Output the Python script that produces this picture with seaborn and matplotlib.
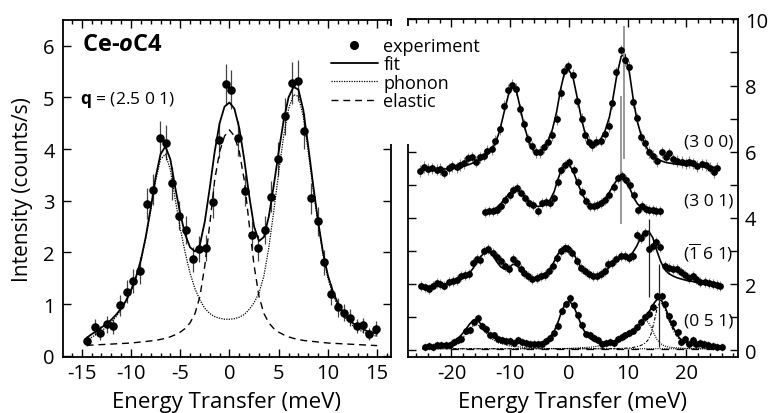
import numpy as np
import pandas as pd
import seaborn as sns
import matplotlib.pyplot as plt
from matplotlib.lines import Line2D
from matplotlib.patches import Rectangle
from matplotlib.ticker import MultipleLocator
import matplotlib.transforms as mtransforms

#%% data - left panel, q = (2.5 0 1)
x_left = [-14.5,-13.7,-13.1,-12.4,-11.8,-11.1,-10.4,-9.8,-9.1,-8.4,-7.8,-7.1,-6.4,-5.8,-5.1,
          -4.4,-3.7,-3.1,-2.4,-1.7,-1.1,-0.4,0.2,0.9,1.6,2.3,2.9,3.6,4.2,4.9,
          5.6,6.3,7.0,7.6,8.3,9.0,9.6,10.3,11.0,11.6,12.2,12.9,13.6,14.2,14.9]
y_left = [0.29,0.56,0.44,0.61,0.57,0.98,1.24,1.45,1.65,2.94,3.21,4.21,4.12,3.34,2.71,
          2.44,1.87,2.06,2.08,2.97,4.17,5.26,5.15,4.21,3.19,2.34,2.08,2.44,3.08,3.81,
          4.63,5.28,5.32,4.35,3.05,2.60,1.81,1.19,0.94,0.84,0.74,0.58,0.59,0.42,0.53]
err_left = [0.10,0.15,0.14,0.16,0.15,0.20,0.22,0.24,0.26,0.30,0.30,0.34,0.34,0.32,0.28,
            0.27,0.24,0.25,0.25,0.30,0.34,0.38,0.38,0.34,0.30,0.26,0.25,0.27,0.30,0.33,
            0.36,0.40,0.40,0.35,0.30,0.28,0.24,0.20,0.18,0.16,0.16,0.14,0.15,0.12,0.14]

xc_left = [-14.5,-14,-13.5,-13,-12.5,-12,-11.5,-11,-10.5,-10,-9.5,-9,-8.5,-8,-7.5,-7,-6.5,-6,-5.5,-5,
           -4.5,-4,-3.5,-3,-2.5,-2,-1.5,-1,-0.5,0,0.5,1,1.5,2,2.5,3,3.5,4,4.5,5,
           5.5,6,6.5,7,7.5,8,8.5,9,9.5,10,10.5,11,11.5,12,12.5,13,13.5,14,14.5,15]
fit_left = [0.35,0.42,0.48,0.55,0.62,0.70,0.80,0.92,1.07,1.27,1.52,1.85,2.30,2.85,3.45,3.90,4.05,3.80,3.25,2.75,
            2.35,2.10,2.02,2.15,2.60,3.25,3.95,4.50,4.82,4.90,4.78,4.40,3.80,3.10,2.50,2.22,2.30,2.70,3.30,3.95,
            4.55,5.00,5.20,5.15,4.75,4.05,3.30,2.60,2.00,1.55,1.25,1.02,0.85,0.73,0.64,0.57,0.52,0.48,0.45,0.43]
phonon_left = [0.30,0.36,0.42,0.48,0.56,0.65,0.76,0.90,1.05,1.25,1.50,1.83,2.27,2.80,3.38,3.80,3.90,3.60,3.02,2.47,
               2.00,1.60,1.30,1.08,0.92,0.82,0.76,0.73,0.71,0.71,0.72,0.75,0.80,0.90,1.03,1.22,1.55,2.10,2.80,3.55,
               4.25,4.78,5.05,5.02,4.62,3.95,3.22,2.55,1.96,1.50,1.18,0.96,0.80,0.68,0.59,0.52,0.47,0.43,0.40,0.38]
elastic_left = [0.205,0.21,0.215,0.22,0.225,0.23,0.235,0.24,0.245,0.25,0.26,0.27,0.28,0.29,0.30,0.32,0.34,0.37,0.41,0.46,
                0.53,0.64,0.82,1.15,1.75,2.55,3.40,3.95,4.25,4.37,4.25,3.95,3.40,2.55,1.75,1.15,0.82,0.64,0.53,0.46,
                0.41,0.37,0.34,0.32,0.30,0.29,0.28,0.27,0.26,0.25,0.245,0.24,0.235,0.23,0.225,0.22,0.215,0.21,0.205,0.20]

#%% data - right panel, four q points (values as plotted, offsets included)
x300 = [-25.4,-24.7,-24.0,-23.3,-22.5,-21.9,-21.2,-20.5,-19.9,-19.1,-18.5,-17.8,-17.1,-16.5,-15.9,
        -15.2,-14.5,-13.9,-13.1,-12.5,-11.8,-11.1,-10.3,-9.7,-9.0,-8.4,-7.7,-6.9,-6.3,-5.6,
        -4.9,-4.3,-3.5,-2.8,-2.1,-1.4,-0.8,-0.1,0.7,1.4,2.2,2.7,3.4,4.0,4.7,
        5.4,6.1,6.9,7.4,8.1,8.9,9.5,10.3,10.95,11.6,12.3,12.95,13.6,14.4,15.0,
        15.8,16.5,17.1,17.8,18.45,19.2,19.9,20.5,21.2,21.9,22.6,23.3,24.0,24.7,25.3]
y300 = [5.42,5.54,5.48,5.50,5.46,5.48,5.37,5.50,5.56,5.53,5.60,5.66,5.80,5.83,5.70,
        5.83,5.88,6.03,6.08,6.33,6.68,7.38,7.88,8.03,7.90,7.28,6.83,6.38,6.17,5.98,
        5.99,6.13,6.30,6.50,6.98,7.78,8.43,8.58,8.33,7.53,7.00,6.50,6.30,6.20,6.30,
        6.33,6.53,6.78,7.46,8.40,9.07,8.77,8.57,7.50,7.01,6.46,6.26,5.99,5.87,5.72,
        5.98,5.83,5.95,5.77,5.72,5.69,5.65,5.69,5.65,5.57,5.62,5.60,5.52,5.39,5.52]
fit300 = [5.45,5.45,5.45,5.46,5.46,5.47,5.48,5.49,5.50,5.52,5.54,5.57,5.61,5.65,5.69,
          5.75,5.82,5.92,6.08,6.28,6.62,7.15,7.72,7.95,7.88,7.42,6.85,6.35,6.10,5.98,
          6.00,6.12,6.35,6.68,7.20,7.90,8.35,8.50,8.25,7.65,6.95,6.60,6.30,6.20,6.25,
          6.38,6.60,7.05,7.50,8.25,8.88,8.95,8.40,7.60,6.95,6.50,6.22,6.02,5.87,5.78,
          5.72,5.68,5.66,5.64,5.62,5.61,5.60,5.59,5.58,5.57,5.56,5.55,5.54,5.53,5.52]

x301 = [-14.3,-13.6,-12.9,-12.2,-11.5,-10.8,-10.1,-9.5,-8.9,-8.2,-7.5,-6.8,-6.1,-5.3,-4.6,
        -3.9,-3.2,-2.5,-1.9,-1.3,-0.6,0.1,0.8,1.5,2.2,2.9,3.6,4.25,4.8,5.5,
        6.2,6.9,7.6,8.3,9.0,9.7,10.4,11.1,11.7,12.4,13.1,13.7,14.3,14.9,15.6]
y301 = [4.18,4.20,4.22,4.25,4.35,4.55,4.70,4.85,4.90,4.77,4.60,4.45,4.40,4.20,4.45,
        4.47,4.45,4.60,5.10,5.45,5.60,5.70,5.45,5.10,4.80,4.50,4.37,4.35,4.40,4.45,
        4.55,4.70,4.95,5.20,5.27,5.15,5.00,4.70,4.25,4.35,4.27,4.23,4.23,4.22,4.22]
fit301 = [4.20,4.22,4.26,4.33,4.45,4.60,4.75,4.83,4.85,4.78,4.64,4.50,4.40,4.35,4.36,
          4.42,4.55,4.80,5.15,5.45,5.62,5.60,5.38,5.05,4.75,4.52,4.40,4.36,4.38,4.45,
          4.58,4.78,5.00,5.17,5.20,5.10,4.88,4.60,4.42,4.33,4.27,4.24,4.22,4.21,4.20]

x161 = [-25.2,-24.5,-23.85,-23.15,-22.5,-21.9,-21.2,-20.5,-19.8,-19.1,-18.4,-17.7,-17.0,-16.35,-15.7,
        -15.1,-14.4,-13.7,-13.0,-12.3,-11.6,-10.9,-10.2,-9.55,-8.9,-8.2,-7.6,-6.9,-6.2,-5.5,
        -4.8,-4.1,-3.4,-2.75,-2.05,-1.35,-0.7,-0.1,0.6,1.3,2.0,2.7,3.4,4.05,4.75,
        5.4,6.1,6.7,7.4,8.1,8.8,9.5,10.2,10.85,11.55,12.2,12.9,13.6,14.3,14.9,
        15.6,16.3,17.0,17.7,18.35,19.05,19.7,20.4,21.1,21.7,22.4,23.1,23.8,24.5,25.2,25.75]
y161 = [1.94,1.90,1.86,1.96,2.04,2.01,1.96,2.06,2.11,2.14,2.24,2.28,2.31,2.65,2.75,
        2.72,3.00,3.07,2.95,2.83,2.70,2.55,2.47,2.77,2.65,2.47,2.35,2.25,2.15,2.20,
        2.25,2.28,2.41,2.55,2.80,3.00,3.10,3.07,2.95,2.70,2.50,2.41,2.31,2.25,2.25,
        2.31,2.41,2.60,2.65,2.75,2.85,2.85,2.80,2.85,3.50,3.40,3.55,3.05,3.15,3.27,
        3.13,2.55,2.50,2.47,2.45,2.38,2.28,2.18,2.25,2.16,2.08,2.06,2.04,2.01,1.98,1.94]
fit161 = [1.92,1.93,1.94,1.95,1.97,1.99,2.01,2.03,2.06,2.10,2.15,2.22,2.32,2.47,2.65,
          2.82,2.95,2.98,2.88,2.68,2.52,2.45,2.50,2.60,2.58,2.46,2.33,2.23,2.17,2.17,
          2.20,2.27,2.40,2.60,2.85,3.05,3.15,3.15,3.00,2.75,2.52,2.35,2.25,2.20,2.20,
          2.25,2.35,2.48,2.60,2.70,2.78,2.82,2.86,2.95,3.15,3.40,3.58,3.60,3.40,3.05,
          2.70,2.45,2.32,2.25,2.20,2.16,2.13,2.10,2.08,2.05,2.03,2.00,1.98,1.96,1.94,1.93]

x051 = [-24.5,-23.85,-23.1,-22.4,-21.7,-21.0,-20.3,-19.65,-18.95,-18.3,-17.6,-16.9,-16.2,-15.5,-14.8,
        -14.1,-13.45,-12.8,-12.1,-11.4,-10.7,-10.05,-9.4,-8.7,-8.0,-7.3,-6.6,-5.9,-5.25,-4.55,
        -3.9,-3.2,-2.5,-1.8,-1.15,-0.45,0.2,0.9,1.55,2.2,2.9,3.6,4.3,5.0,5.6,
        6.3,7.0,7.7,8.4,9.0,9.6,10.3,11.0,11.6,12.3,13.0,13.7,14.4,15.05,15.8,
        16.4,17.1,17.8,18.5,19.1,19.8,20.4,21.1,21.7,22.3,23.0,23.7,24.5,25.2,26.0]
y051 = [0.10,0.12,0.10,0.15,0.17,0.15,0.15,0.25,0.30,0.35,0.60,0.63,0.85,0.97,0.75,
        0.65,0.47,0.45,0.35,0.30,0.28,0.28,0.23,0.30,0.25,0.23,0.20,0.20,0.20,0.20,
        0.27,0.37,0.53,0.75,1.20,1.40,1.58,1.36,1.08,0.76,0.48,0.46,0.37,0.30,0.20,
        0.23,0.25,0.23,0.35,0.40,0.45,0.53,0.60,0.70,0.85,1.00,1.10,1.30,1.65,1.65,
        1.41,1.05,0.83,0.55,0.25,0.35,0.20,0.30,0.20,0.23,0.20,0.15,0.13,0.10,0.10]
fit051 = [0.08,0.09,0.10,0.12,0.14,0.17,0.21,0.27,0.35,0.47,0.62,0.80,0.92,0.90,0.76,
          0.60,0.47,0.38,0.32,0.28,0.26,0.25,0.24,0.23,0.22,0.21,0.21,0.21,0.22,0.25,
          0.30,0.40,0.58,0.88,1.22,1.45,1.47,1.30,1.02,0.72,0.50,0.36,0.28,0.24,0.22,
          0.23,0.25,0.28,0.32,0.37,0.42,0.50,0.60,0.70,0.84,1.00,1.18,1.40,1.55,1.50,
          1.30,0.98,0.68,0.45,0.32,0.25,0.20,0.17,0.15,0.14,0.13,0.12,0.11,0.10,0.10]

# fit components of (0 5 1)
xc051 = [-25,-22,-20,-19,-18,-17,-16.5,-16,-15.5,-15,-14,-13,-12,-10,-7,-4,0,4,7,
         9,10,11,12,12.5,13,13.5,14,14.5,15,15.5,16,16.5,17,18,19,20,22,26]
ph051_a = [0.06,0.10,0.17,0.25,0.40,0.62,0.72,0.78,0.77,0.70,0.50,0.33,0.23,0.13,0.08,0.06,0.05,0.05,0.05,
           0.05,0.05,0.05,0.05,0.05,0.05,0.05,0.05,0.05,0.05,0.05,0.05,0.05,0.05,0.05,0.05,0.05,0.05,0.05]
ph051_b = [0.05,0.05,0.05,0.05,0.05,0.05,0.05,0.05,0.05,0.05,0.05,0.05,0.05,0.05,0.05,0.05,0.06,0.10,0.20,
           0.32,0.42,0.58,0.75,0.85,0.90,0.85,0.70,0.50,0.33,0.22,0.16,0.12,0.10,0.08,0.07,0.06,0.05,0.05]
ph051_c = [0.05,0.05,0.05,0.05,0.05,0.05,0.05,0.05,0.05,0.05,0.05,0.05,0.05,0.05,0.05,0.05,0.05,0.05,0.05,
           0.06,0.07,0.09,0.13,0.17,0.22,0.32,0.50,0.85,1.25,1.45,1.38,1.18,0.92,0.52,0.28,0.17,0.09,0.06]
el051_x = [-20, 25]
el051_y = [0.04, 0.04]

errs_right = [0.17, 0.15, 0.15, 0.12]
q_labels = ['(3 0 0)', '(3 0 1)', r'($\overline{\mathrm{1}}$ 6 1)', '(0 5 1)']
q_label_y = [6.32, 4.53, 2.97, 0.90]

# vertical markers in the right panel
mark_x = [9.4, 8.8, 13.7, 15.4]
mark_lo = [5.77, 3.82, 1.61, 0.10]
mark_hi = [9.79, 7.70, 3.97, 2.61]
mark_col = ['#999999', '#999999', '#222222', '#222222']

#%% style
sns.set_style('ticks')
plt.rcParams['font.family'] = ['Open Sans', 'DejaVu Sans']
plt.rcParams['mathtext.fontset'] = 'custom'
plt.rcParams['mathtext.rm'] = 'Open Sans'
plt.rcParams['mathtext.bf'] = 'Open Sans:bold'
plt.rcParams['mathtext.it'] = 'Open Sans:italic:bold'
plt.rcParams['axes.unicode_minus'] = False
plt.rcParams['text.color'] = 'black'
plt.rcParams['axes.labelcolor'] = 'black'

fig = plt.figure(figsize=(7.82, 4.14), dpi=100)
ax1 = fig.add_axes([63/782, 56/414, 328/782, 337.3/414])
ax2 = fig.add_axes([408/782, 56/414, 330/782, 337.6/414])

dot = (0, (1, 1))
dash = (0, (5, 3.5))


def style(ax):
    for s in ax.spines.values():
        s.set_linewidth(1.3)
        s.set_color('black')
    ax.tick_params(which='both', direction='in', top=True, right=True, width=1.0,
                   color='black', labelsize=14.5, labelcolor='black')
    ax.tick_params(which='major', length=5.5)
    ax.tick_params(which='minor', length=3)
    ax.tick_params(axis='x', pad=4)


def curve(ax, x, y, lw, ls):
    sns.lineplot(x=x, y=y, ax=ax, color='black', lw=lw, linestyle=ls,
                 estimator=None, sort=False, legend=False)


#%% left panel
ax1.errorbar(x_left, y_left, yerr=err_left, fmt='none', ecolor='#444444', elinewidth=0.9, capsize=0, zorder=2)
curve(ax1, xc_left, elastic_left, 1.0, dash)
curve(ax1, xc_left, phonon_left, 0.9, dot)
curve(ax1, xc_left, fit_left, 1.3, '-')
sns.scatterplot(x=x_left, y=y_left, ax=ax1, color='black', s=38, linewidth=0, zorder=4, legend=False)

ax1.set_xlim(-16.9, 16.4)
ax1.set_ylim(-0.02, 6.5)
ax1.xaxis.set_major_locator(MultipleLocator(5))
ax1.xaxis.set_minor_locator(MultipleLocator(1))
ax1.yaxis.set_major_locator(MultipleLocator(1))
style(ax1)
ax1.tick_params(axis='y', pad=6)
ax1.set_xlabel('Energy Transfer (meV)', fontsize=16, labelpad=6)
ax1.set_ylabel('Intensity (counts/s)', fontsize=15, labelpad=7)
ax1.text(0.058, 0.928, r'Ce-$\mathit{o}$C4', transform=ax1.transAxes, fontsize=17,
         fontweight='bold', ha='left', va='center')
ax1.text(0.052, 0.765, r'$\mathbf{q}$ = (2.5 0 1)', transform=ax1.transAxes, fontsize=12.5,
         ha='left', va='center')

#%% right panel
series = [(x300, y300, fit300), (x301, y301, fit301), (x161, y161, fit161), (x051, y051, fit051)]
for (xs, ys, fs), e in zip(series, errs_right):
    ax2.errorbar(xs, ys, yerr=e, fmt='none', ecolor='#888888', elinewidth=0.8, capsize=0, zorder=2)
    curve(ax2, xs, fs, 1.2, '-')
    sns.scatterplot(x=xs, y=ys, ax=ax2, color='black', s=24, linewidth=0, zorder=4, legend=False)

curve(ax2, xc051, ph051_a, 0.8, dot)
curve(ax2, xc051, ph051_b, 0.8, dot)
curve(ax2, xc051, ph051_c, 0.8, (0, (3, 1.5, 1, 1.5)))
curve(ax2, el051_x, el051_y, 0.9, (0, (6, 6)))

ax2.vlines(mark_x, mark_lo, mark_hi, colors=mark_col, linewidths=[1.4, 1.4, 0.9, 0.9], zorder=3)

trans = mtransforms.blended_transform_factory(ax2.transAxes, ax2.transData)
for lab, yy in zip(q_labels, q_label_y):
    ax2.text(0.985, yy, lab, transform=trans, ha='right', va='center', fontsize=12.5)

ax2.set_xlim(-27.4, 28.8)
ax2.set_ylim(-0.2, 10)
ax2.xaxis.set_major_locator(MultipleLocator(10))
ax2.xaxis.set_minor_locator(MultipleLocator(2))
ax2.yaxis.set_major_locator(MultipleLocator(2))
ax2.yaxis.set_minor_locator(MultipleLocator(1))
style(ax2)
ax2.tick_params(axis='y', which='minor', length=5.5)
ax2.tick_params(axis='y', labelleft=False, labelright=True, pad=5)
ax2.set_xlabel('Energy Transfer (meV)', fontsize=16, labelpad=6)
ax2.set_ylabel('')

#%% legend over the gap between panels
fig.add_artist(Rectangle((380/782, 1 - 145/414), 40/782, 118/414, transform=fig.transFigure,
                         facecolor='white', edgecolor='none', zorder=1))
handles = [Line2D([], [], marker='o', color='black', linestyle='none', markersize=5.5),
           Line2D([], [], color='black', lw=1.3),
           Line2D([], [], color='black', lw=0.9, linestyle=dot),
           Line2D([], [], color='black', lw=1.0, linestyle=dash)]
fig.legend(handles, ['experiment', 'fit', 'phonon', 'elastic'], loc='upper left',
           bbox_to_anchor=(331/782, 1 - 38/414), frameon=False, fontsize=13,
           handlelength=2.6, handletextpad=0.3, labelspacing=0.02, borderpad=0, borderaxespad=0)

fig.savefig('out.png', dpi=100)
